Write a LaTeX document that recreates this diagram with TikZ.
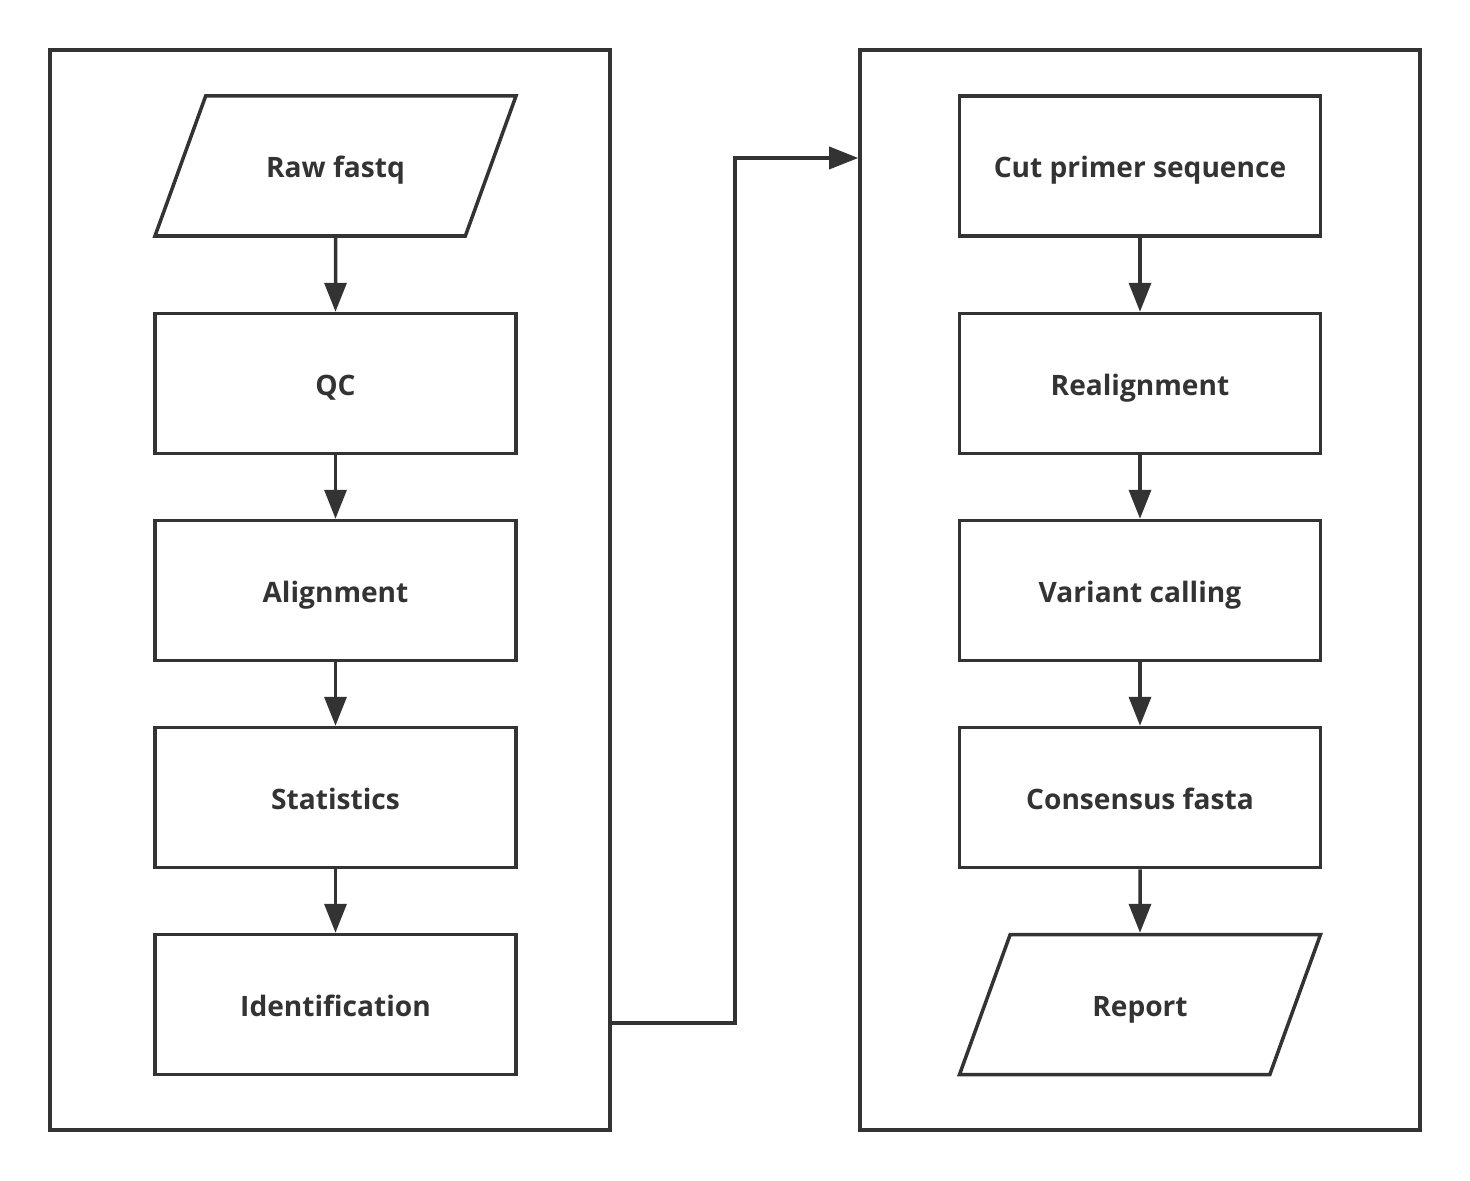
\documentclass[tikz,border=0pt]{standalone}
\usepackage{fontspec}
\setmainfont{Open Sans}[BoldFont = {Open Sans Bold}]
\usepackage{xcolor}
\usetikzlibrary{shapes.geometric, arrows.meta, positioning}
\definecolor{ink}{HTML}{333333}

\tikzset{
    stepbox/.style = {draw = ink, line width = 2pt, minimum width = 7.22cm, minimum height = 2.8cm, text = ink, text height = 16pt, text depth = 2.4pt, font = \fontsize{16}{19}\selectfont\bfseries},
    iobox/.style = {stepbox, shape = trapezium, trapezium left angle = 41, trapezium right angle = 139, trapezium stretches body = true},
    frame/.style = {draw = ink, line width = 2pt, minimum width = 11.2cm, minimum height = 21.6cm},
    flow/.style = {draw = ink, line width = 2pt, -{Triangle[length = 0.58cm, width = 0.44cm]}}
}

\begin{document}
\begin{tikzpicture}[node distance = 1.27cm]
    \useasboundingbox (0,0) rectangle (29.4,23.6);
    % outer frames
    \node[frame] (leftbox) at (6.6,11.8) {};
    \node[frame] (rightbox) at (22.8,11.8) {};
    % left column
    \node[iobox] (raw) at (6.71,20.28) {Raw fastq};
    \node[stepbox, below = 1.48cm of raw] (qc) {QC};
    \node[stepbox, below = of qc] (align) {Alignment};
    \node[stepbox, below = of align] (stats) {Statistics};
    \node[stepbox, below = of stats] (ident) {Identification};
    % right column
    \node[stepbox] (cut) at (22.8,20.28) {Cut primer sequence};
    \node[stepbox, below = 1.48cm of cut] (realign) {Realignment};
    \node[stepbox, below = of realign] (calling) {Variant calling};
    \node[stepbox, below = of calling] (consensus) {Consensus fasta};
    \node[iobox, below = of consensus] (report) {Report};
    \draw[flow] (raw) -- (qc);
    \draw[flow] (qc) -- (align);
    \draw[flow] (align) -- (stats);
    \draw[flow] (stats) -- (ident);
    \draw[flow] (cut) -- (realign);
    \draw[flow] (realign) -- (calling);
    \draw[flow] (calling) -- (consensus);
    \draw[flow] (consensus) -- (report);
    % link between the two frames
    \coordinate (out) at (leftbox.east |- 0,3.14);
    \coordinate (bend) at (14.7,20.44);
    \coordinate (in) at (rightbox.west |- 0,20.44);
    \draw[flow] (out) -| (bend) -- (in);
\end{tikzpicture}
\end{document}
